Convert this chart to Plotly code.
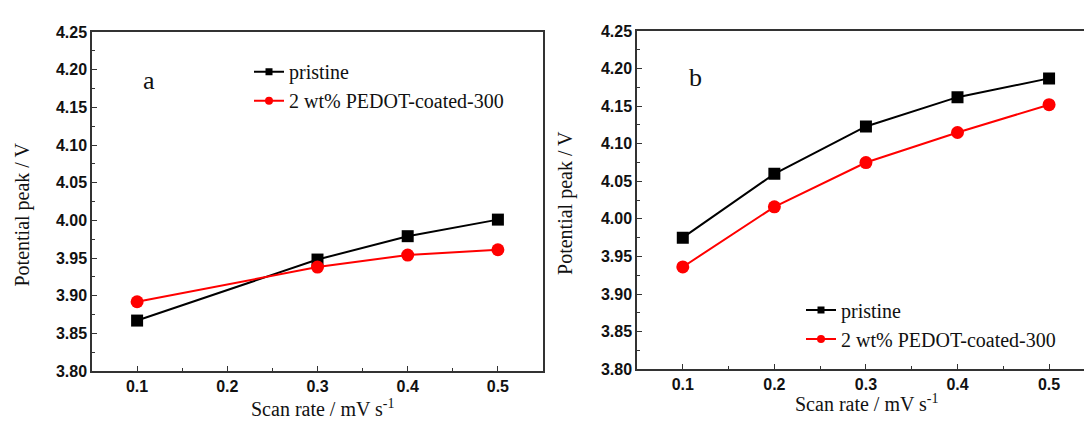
import plotly.graph_objects as go

# ---- data ----
scan_a = [0.1, 0.3, 0.4, 0.5]
pristine_a = [3.867, 3.948, 3.979, 4.001]
pedot_a = [3.892, 3.938, 3.954, 3.961]

scan_b = [0.1, 0.2, 0.3, 0.4, 0.5]
pristine_b = [3.975, 4.060, 4.123, 4.162, 4.187]
pedot_b = [3.936, 4.016, 4.075, 4.115, 4.152]

x_ticks = [0.1, 0.2, 0.3, 0.4, 0.5]
x_minor = [0.15, 0.25, 0.35, 0.45]
y_ticks = [3.80, 3.85, 3.90, 3.95, 4.00, 4.05, 4.10, 4.15, 4.20, 4.25]
y_minor = [3.825, 3.875, 3.925, 3.975, 4.025, 4.075, 4.125, 4.175, 4.225]

name_p = "pristine"
name_c = "2 wt% PEDOT-coated-300"

W, H = 1084, 430
SERIF = "Liberation Serif"
SANS = "Liberation Sans"
BLACK = "#000000"
RED = "#ff0000"
AX = "#333333"

fig = go.Figure()

def add_panel(xs, yp, yc, xa, ya, leg):
    fig.add_trace(go.Scatter(x=xs, y=yp, mode="lines+markers", xaxis=xa, yaxis=ya,
                             line=dict(color=BLACK, width=2),
                             marker=dict(symbol="square", size=12, color=BLACK),
                             showlegend=False))
    fig.add_trace(go.Scatter(x=xs, y=yc, mode="lines+markers", xaxis=xa, yaxis=ya,
                             line=dict(color=RED, width=2),
                             marker=dict(symbol="circle", size=13, color=RED),
                             showlegend=False))
    # legend entries (smaller markers like the original)
    fig.add_trace(go.Scatter(x=[None], y=[None], mode="lines+markers", xaxis=xa, yaxis=ya,
                             name=name_p, legend=leg,
                             line=dict(color=BLACK, width=2),
                             marker=dict(symbol="square", size=7, color=BLACK)))
    fig.add_trace(go.Scatter(x=[None], y=[None], mode="lines+markers", xaxis=xa, yaxis=ya,
                             name=name_c, legend=leg,
                             line=dict(color=RED, width=2),
                             marker=dict(symbol="circle", size=8, color=RED)))

add_panel(scan_a, pristine_a, pedot_a, "x", "y", "legend")
add_panel(scan_b, pristine_b, pedot_b, "x2", "y2", "legend2")

axis_common = dict(
    showline=True, linecolor=AX, linewidth=1.5,
    ticks="inside", ticklen=5, tickwidth=1.2, tickcolor=AX,
    showgrid=False, zeroline=False,
    tickfont=dict(family=SANS, size=16, color="#111111", weight=700),
)
x_common = dict(tickvals=x_ticks, ticktext=[f"<b>{v:.1f}</b>" for v in x_ticks],
                minor=dict(tickvals=x_minor, ticks="inside", ticklen=3, tickcolor=AX),
                **axis_common)
y_common = dict(range=[3.80, 4.25], tickvals=y_ticks, ticktext=[f"<b>{v:.2f}</b>" for v in y_ticks],
                minor=dict(tickvals=y_minor, ticks="inside", ticklen=3, tickcolor=AX),
                **axis_common)

xa_dom = [92 / W, 543 / W]
xb_dom = [637 / W, 1.0]
ya_dom = [1 - 378 / H, 1 - 25 / H]
yb_dom = [1 - 376 / H, 1 - 24 / H]

# x range for b: panel is clipped on the right in the original
px_per_tenth_b = (1049 - 682) / 4
xb_right = 0.1 + (W - 682) / (px_per_tenth_b * 10)

leg_font = dict(family=SERIF, size=20, color="#111111")

fig.update_layout(
    width=W, height=H,
    font=dict(family=SERIF, color="#111111"),
    margin=dict(l=0, r=0, t=0, b=0),
    paper_bgcolor="white", plot_bgcolor="white",
    xaxis=dict(domain=xa_dom, range=[0.05, 0.55], anchor="y", mirror=True, **x_common),
    yaxis=dict(domain=ya_dom, anchor="x", mirror=True, **y_common),
    xaxis2=dict(domain=xb_dom, range=[0.05, xb_right], anchor="y2", mirror=True, **x_common),
    yaxis2=dict(domain=yb_dom, anchor="x2", mirror=False, **y_common),
    legend=dict(x=249 / W, y=1 - 46 / H, xanchor="left", yanchor="top",
                bgcolor="rgba(0,0,0,0)", borderwidth=0, font=leg_font,
                tracegroupgap=0, itemwidth=30),
    legend2=dict(x=801 / W, y=1 - 294 / H, xanchor="left", yanchor="top",
                 bgcolor="rgba(0,0,0,0)", borderwidth=0, font=leg_font,
                 tracegroupgap=0, itemwidth=30),
)

ann_font = dict(family=SERIF, size=20, color="#111111")
fig.add_annotation(text="Potential peak / V", x=22 / W, y=1 - 215 / H, xref="paper", yref="paper",
                   textangle=-90, showarrow=False, font=ann_font, xanchor="center", yanchor="middle")
fig.add_annotation(text="Potential peak / V", x=566 / W, y=1 - 203 / H, xref="paper", yref="paper",
                   textangle=-90, showarrow=False, font=ann_font, xanchor="center", yanchor="middle")
fig.add_annotation(text="Scan rate / mV s<sup>-1</sup>", x=323 / W, y=1 - 416 / H, xref="paper", yref="paper",
                   showarrow=False, font=ann_font, xanchor="center", yanchor="middle")
fig.add_annotation(text="Scan rate / mV s<sup>-1</sup>", x=867 / W, y=1 - 411 / H, xref="paper", yref="paper",
                   showarrow=False, font=ann_font, xanchor="center", yanchor="middle")
fig.add_annotation(text="a", x=149 / W, y=1 - 75 / H, xref="paper", yref="paper",
                   showarrow=False, font=dict(family=SERIF, size=26, color="#111111"),
                   xanchor="center", yanchor="middle")
fig.add_annotation(text="b", x=695 / W, y=1 - 72 / H, xref="paper", yref="paper",
                   showarrow=False, font=dict(family=SERIF, size=26, color="#111111"),
                   xanchor="center", yanchor="middle")

fig.write_html("out.html")
